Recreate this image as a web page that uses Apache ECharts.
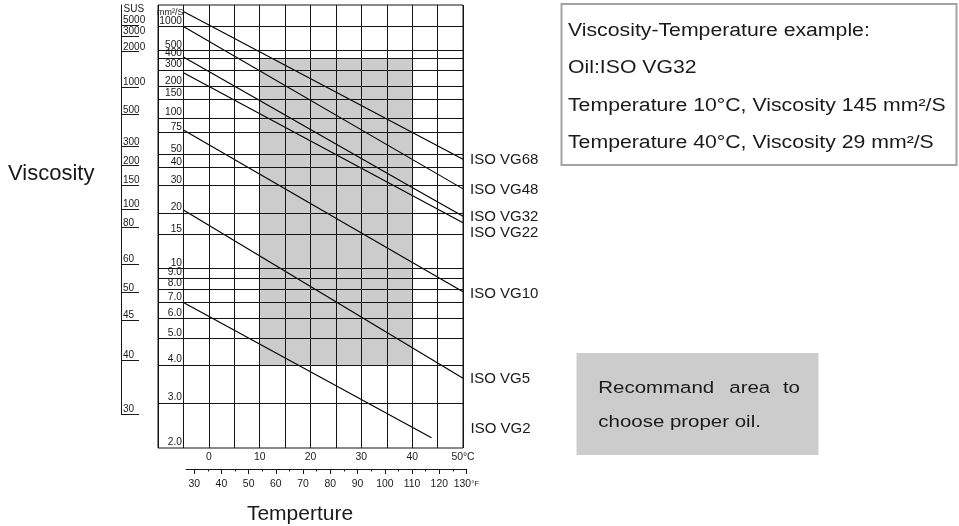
<!DOCTYPE html>
<html>
<head>
<meta charset="utf-8">
<title>Viscosity-Temperature chart</title>
<script src="https://cdn.jsdelivr.net/npm/echarts@6/dist/echarts.min.js"></script>
<style>
  html, body { margin: 0; padding: 0; background: #ffffff; }
  #chart { width: 959px; height: 526px; }
</style>
</head>
<body>
<div id="chart"></div>
<script>
// Kinematic viscosity grid lines (mm²/s) and their printed labels
const cstGridValues = [1000, 500, 400, 300, 200, 150, 100, 75, 50, 40, 30, 20, 15, 10, 9, 8, 7, 6, 5, 4, 3];
const cstGridLabels = ['1000', '500', '400', '300', '200', '150', '100', '75', '50', '40', '30', '20', '15', '10', '9.0', '8.0', '7.0', '6.0', '5.0', '4.0', '3.0'];
const cstTop = 2000;
const cstBottom = 2.22;
const cstBottomLabel = '2.0';
const cstUnit = 'mm²/S';

// Saybolt scale: SUS labels and the mm²/s level each one is printed at
const susUnit = 'SUS';
const susLabels = ['5000', '3000', '2000', '1000', '500', '300', '200', '150', '100', '80', '60', '50', '45', '40', '30'];
const susAtCst = [1044, 757, 485, 197, 107, 57.4, 41.2, 30.2, 21.1, 16.4, 10.5, 7.7, 5.9, 4.16, 2.77];

// Temperature scales
const celsiusMin = -10;
const celsiusMax = 50;
const fahrenheitMin = 27;
const fahrenheitMax = 130;
const fahrenheitMajor = [30, 40, 50, 60, 70, 80, 90, 100, 110, 120, 130];
const fahrenheitMinor = [35, 45, 55, 65, 75, 85, 95, 105, 115, 125];

// Oil grades: [temperature °C, viscosity mm²/s]
const gradeNames = ['ISO VG68', 'ISO VG48', 'ISO VG32', 'ISO VG22', 'ISO VG10', 'ISO VG5', 'ISO VG2'];
const vg68 = [[-5, 1609], [50, 45.9]];
const vg48 = [[-5, 1000], [50, 28.4]];
const vg32 = [[-5, 418], [10, 145], [40, 29], [50, 19.1]];
const vg22 = [[-5, 279.5], [50, 17.5]];
const vg10 = [[-5, 78.7], [50, 7.79]];
const vg5 = [[-5, 20.85], [50, 3.6]];
const vg2 = [[-5, 6.99], [43.8, 2.37]];
const gradeData = [vg68, vg48, vg32, vg22, vg10, vg5, vg2];

// Recommended operating window
const recommendTemp = [10, 40];
const recommendVisc = [400, 4];

// Example box lines
const exampleLines = [
  'Viscosity-Temperature example:',
  'Oil:ISO VG32',
  'Temperature 10°C, Viscosity 145 mm²/S',
  'Temperature 40°C, Viscosity 29 mm²/S'
];

// Walther (ASTM D341) scale: log log (v + 0.7)
const walther = v => Math.log10(Math.log10(v + 0.7));

const FONT = "'Liberation Sans', Arial, Helvetica, sans-serif";
const INK = '#1a1a1a';
const GRID_INK = '#141414';

function cstLabelFor(w) {
  if (Math.abs(w - walther(cstBottom)) < 1e-7) return cstBottomLabel;
  const i = cstGridValues.findIndex(v => Math.abs(walther(v) - w) < 1e-7);
  return i < 0 ? '' : cstGridLabels[i];
}
// the SUS scale carries a blank label at its top end so the
// automatic max-label thinning never drops the crowded 5000/3000 pair
function susLabelFor(w) {
  const i = susAtCst.findIndex(v => Math.abs(walther(v) - w) < 1e-7);
  return i < 0 ? ' ' : susLabels[i];
}

// end-label nudges so the grade names stay clear of each other
const endLabelOffsets = [[0, 1], [0, 1], [0, 1], [0, 10], [0, 2], [0, 1], [32, -9]];

const gradeSeries = gradeNames.map((name, i) => ({
  name: name,
  type: 'line',
  xAxisIndex: 0,
  yAxisIndex: 0,
  data: gradeData[i].map(p => [p[0], walther(p[1])]),
  symbol: 'none',
  silent: true,
  lineStyle: { color: '#000000', width: 1.15 },
  endLabel: {
    show: true,
    formatter: p => p.seriesName,
    distance: 7,
    offset: endLabelOffsets[i],
    fontFamily: FONT,
    fontSize: 15,
    color: INK
  },
  z: 3
}));

gradeSeries[0].markArea = {
  silent: true,
  itemStyle: { color: '#cccccc' },
  data: [[
    { coord: [recommendTemp[0], walther(recommendVisc[0])] },
    { coord: [recommendTemp[1], walther(recommendVisc[1])] }
  ]]
};

function boxText(text, x, y, size, scaleX, align) {
  return {
    type: 'text',
    x: x,
    y: y,
    scaleX: scaleX,
    silent: true,
    z: 10,
    style: {
      text: text,
      font: size + 'px ' + FONT,
      fill: INK,
      align: align || 'left',
      verticalAlign: 'middle',
      textAlign: align || 'left',
      textVerticalAlign: 'middle'
    }
  };
}

const chart = echarts.init(document.getElementById('chart'), null, { renderer: 'canvas' });

chart.setOption({
  animation: false,
  backgroundColor: '#ffffff',
  grid: [
    { left: 158, top: 5, width: 305, height: 443, show: true, borderColor: GRID_INK, borderWidth: 1, backgroundColor: 'transparent', containLabel: false, outerBoundsMode: 'none' },
    { left: 121, top: 5, width: 20, height: 409, show: false, containLabel: false, outerBoundsMode: 'none' },
    { left: 186, top: 460, width: 280.5, height: 9, show: false, containLabel: false, outerBoundsMode: 'none' }
  ],
  xAxis: [
    {
      gridIndex: 0, type: 'value', min: celsiusMin, max: celsiusMax, interval: 5, z: 6,
      axisLine: { show: false }, axisTick: { show: false },
      splitLine: { show: true, lineStyle: { color: GRID_INK, width: 1 } },
      axisLabel: {
        margin: 4, fontFamily: FONT, fontSize: 10.4, color: INK, hideOverlap: false,
        formatter: v => (v < 0 || v % 10 !== 0) ? '' : (v === celsiusMax ? v + '°C' : String(v))
      }
    },
    { gridIndex: 1, type: 'value', min: 0, max: 1, show: false },
    {
      gridIndex: 2, type: 'value', min: fahrenheitMin, max: fahrenheitMax, position: 'bottom',
      axisLine: { show: true, lineStyle: { color: INK, width: 1 } },
      axisTick: { show: true, length: 5, customValues: fahrenheitMajor, lineStyle: { color: INK, width: 1 } },
      splitLine: { show: false },
      axisLabel: {
        margin: 10, fontFamily: FONT, fontSize: 10.4, color: INK, hideOverlap: false,
        customValues: fahrenheitMajor,
        formatter: v => v === fahrenheitMax ? '{n|' + v + '}{u|°F}' : String(v),
        rich: { n: { fontFamily: FONT, fontSize: 10.4, color: INK }, u: { fontFamily: FONT, fontSize: 8, color: INK } }
      }
    },
    {
      gridIndex: 2, type: 'value', min: fahrenheitMin, max: fahrenheitMax, position: 'bottom',
      axisLine: { show: false },
      axisTick: { show: true, length: 2.5, customValues: fahrenheitMinor, lineStyle: { color: INK, width: 1 } },
      splitLine: { show: false },
      axisLabel: { show: false }
    }
  ],
  yAxis: [
    {
      gridIndex: 0, type: 'value', min: walther(cstBottom), max: walther(cstTop), z: 6,
      axisLine: { show: false },
      axisTick: { show: false, customValues: cstGridValues.map(walther) },
      splitLine: { show: true, lineStyle: { color: GRID_INK, width: 1 } },
      axisLabel: {
        inside: true, align: 'right', verticalAlign: 'bottom', margin: 24, hideOverlap: false,
        fontFamily: FONT, fontSize: 10.2, color: INK, lineHeight: 11,
        customValues: cstGridValues.map(walther).concat([walther(cstBottom)]),
        formatter: cstLabelFor
      }
    },
    {
      gridIndex: 1, type: 'value', min: walther(susAtCst[susAtCst.length - 1]), max: walther(cstTop),
      axisLine: { show: true, lineStyle: { color: INK, width: 1 } },
      axisTick: { show: true, inside: true, length: 18, customValues: susAtCst.map(walther), lineStyle: { color: INK, width: 1 } },
      splitLine: { show: false },
      axisLabel: {
        inside: true, align: 'left', verticalAlign: 'bottom', margin: 2, hideOverlap: false,
        fontFamily: FONT, fontSize: 10, color: INK, lineHeight: 9,
        customValues: [walther(cstTop)].concat(susAtCst.map(walther)),
        formatter: susLabelFor
      }
    },
    { gridIndex: 2, type: 'value', min: 0, max: 1, show: false }
  ],
  series: gradeSeries,
  graphic: [
    boxText(susUnit, 123.5, 9, 10, 1, 'left'),
    boxText(cstUnit, 157, 13, 9, 1, 'left'),
    boxText('Viscosity', 8, 174, 22, 1, 'left'),
    boxText('Temperture', 300, 514, 21, 1, 'center'),
    {
      type: 'rect', silent: true, z: 9,
      shape: { x: 561.5, y: 4, width: 395, height: 161 },
      style: { fill: '#ffffff', stroke: '#a3a3a3', lineWidth: 2 }
    },
    boxText(exampleLines[0], 568, 31, 18, 1.18),
    boxText(exampleLines[1], 568, 68.5, 18, 1.18),
    boxText(exampleLines[2], 568, 106, 18, 1.18),
    boxText(exampleLines[3], 568, 143.5, 18, 1.18),
    {
      type: 'rect', silent: true, z: 9,
      shape: { x: 576.5, y: 353, width: 242, height: 102 },
      style: { fill: '#cccccc' }
    },
    boxText('Recommand', 598.3, 388, 17.2, 1.19),
    boxText('area', 729.3, 388, 17.2, 1.19),
    boxText('to', 800, 388, 17.2, 1.19, 'right'),
    boxText('choose proper oil.', 598.3, 422, 17.2, 1.19)
  ]
});
</script>
</body>
</html>
